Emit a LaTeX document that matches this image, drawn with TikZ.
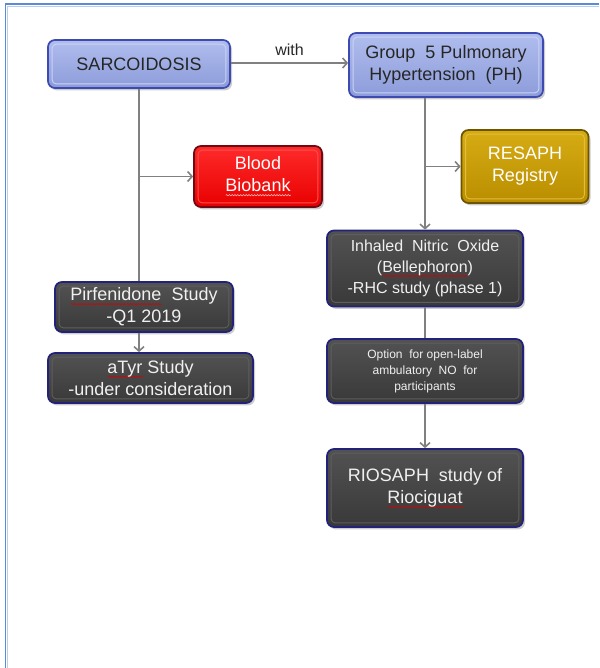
\documentclass[tikz,border=0pt]{standalone}
\usepackage{fontspec}
\setmainfont{Liberation Sans}
\usetikzlibrary{arrows.meta,shadows,decorations.pathmorphing}

% word with a wavy underline (spell-check mark); optional argument: wave colour
\newsavebox\wavebox
\newcommand\redwave[2][red!85!black]{\sbox\wavebox{#2}\leavevmode
  \rlap{\tikz[baseline=0pt, x=1pt, y=1pt, sharp corners, line width=0.55pt]
    \draw[#1, decorate, decoration={snake, amplitude=0.65pt, segment length=2.8pt}]
      (0,-3.3) -- (\the\wd\wavebox,-3.3);}%
  \usebox\wavebox}

\definecolor{frameblue}{HTML}{5B8BD6}
\definecolor{frameblueL}{HTML}{B9CDEE}
\definecolor{blueTop}{HTML}{B0BDEE}
\definecolor{blueBot}{HTML}{8D9CDA}
\definecolor{blueEdge}{HTML}{3D4AB2}
\definecolor{blueBevel}{HTML}{C9D2F5}
\definecolor{darkTop}{HTML}{525252}
\definecolor{darkBot}{HTML}{393939}
\definecolor{darkEdge}{HTML}{22227A}
\definecolor{darkBevel}{HTML}{5E5E5E}
\definecolor{redTop}{HTML}{FF2A2A}
\definecolor{redBot}{HTML}{E80000}
\definecolor{redEdge}{HTML}{6E0A14}
\definecolor{redBevel}{HTML}{FF5050}
\definecolor{goldTop}{HTML}{D6AC14}
\definecolor{goldBot}{HTML}{BA8E00}
\definecolor{goldEdge}{HTML}{6E5400}
\definecolor{goldBevel}{HTML}{E2BE3A}
\definecolor{linkgrey}{HTML}{808080}

\tikzset{
  basebox/.style={rounded corners=7pt, line width=1.7pt, align=center, inner sep=0pt,
    drop shadow={shadow xshift=2pt, shadow yshift=-2.4pt, opacity=0.4}},
  bluebox/.style={basebox, draw=blueEdge, top color=blueTop, bottom color=blueBot, text=black!85},
  darkbox/.style={basebox, draw=darkEdge, top color=darkTop, bottom color=darkBot, text=white!94!black},
  redbox/.style={basebox, draw=redEdge, top color=redTop, bottom color=redBot, text=white},
  goldbox/.style={basebox, draw=goldEdge, top color=goldTop, bottom color=goldBot, text=white},
  bevel/.style={draw=#1, line width=0.9pt, rounded corners=4pt},
  link/.style={draw=linkgrey, line width=1.6pt},
  arrowlink/.style={link, -{Straight Barb[length=4.5pt,width=10pt,line width=1.6pt]}},
  big/.style={font=\fontsize{18}{22}\selectfont},
  mid/.style={font=\fontsize{16}{21}\selectfont},
  small/.style={font=\fontsize{12}{16}\selectfont},
}

\begin{document}
\begin{tikzpicture}[x=1pt, y=-1pt]
\useasboundingbox (0,0) rectangle (599,668);

% page frame
\draw[frameblueL, line width=1pt] (7.6,668) -- (7.6,6.1) -- (599,6.1);
\draw[frameblue, line width=1.3pt] (5.5,668) -- (5.5,4) -- (599,4);

% boxes
\node[bluebox, big, minimum width=182pt, minimum height=48pt] (sarc) at (139,64) {SARCOIDOSIS};
\node[bluebox, big, minimum width=194pt, minimum height=64pt] (ph) at (446,65)
  {Group\ \ 5 Pulmonary\\Hypertension\ \ (PH)};
\node[redbox, big, minimum width=128pt, minimum height=61pt] (blood) at (258,176.5)
  {Blood\\\redwave[white!75!red]{Biobank}};
\node[goldbox, big, minimum width=127pt, minimum height=73pt] (resaph) at (525,166.5)
  {RESAPH\\Registry};
\node[darkbox, mid, minimum width=196pt, minimum height=76pt] (ino) at (425,268.5)
  {Inhaled\ \ Nitric\ \ Oxide\\(\redwave{Bellephoron})\\-RHC study (phase 1)};
\node[darkbox, small, minimum width=196pt, minimum height=64pt] (opt) at (425,371)
  {Option\ \ for open-label\\ambulatory\ \ NO\ \ for\\participants};
\node[darkbox, big, minimum width=196pt, minimum height=78pt] (rio) at (425,488)
  {RIOSAPH\ \ study of\\\redwave{Riociguat}};
\node[darkbox, big, minimum width=178pt, minimum height=50pt] (pirf) at (144,307)
  {\redwave{Pirfenidone}\ \ Study\\-Q1 2019};
\node[darkbox, big, minimum width=205pt, minimum height=50pt] (atyr) at (150.5,378)
  {\redwave{aTyr} Study\\-under consideration};

% inner bevel lines
\foreach \n/\c in {sarc/blueBevel, ph/blueBevel, blood/redBevel, resaph/goldBevel,
                   ino/darkBevel, opt/darkBevel, rio/darkBevel, pirf/darkBevel, atyr/darkBevel}
  \draw[bevel=\c] ([shift={(5pt,-5pt)}]\n.north west) rectangle ([shift={(-5pt,5pt)}]\n.south east);

% left trunk: sarcoidosis studies
\coordinate (ltrunk) at (sarc.south);
\draw[link] (sarc.south) -- (ltrunk |- pirf.north);
\draw[arrowlink] (ltrunk |- blood.west) -- (blood.west);
\draw[arrowlink] (ltrunk |- pirf.south) -- (ltrunk |- atyr.north);

% sarcoidosis with group 5 PH
\draw[arrowlink] (sarc.east |- 0,63) -- node[above=3pt, mid, text=black!85] {with} (ph.west |- 0,63);

% right trunk: PH studies
\coordinate (rtrunk) at (ino.north);
\draw[arrowlink] (rtrunk |- ph.south) -- (ino.north);
\draw[arrowlink] (rtrunk |- resaph.west) -- (resaph.west);
\draw[link] (ino.south) -- (opt.north);
\draw[arrowlink] (opt.south) -- (rio.north);
\end{tikzpicture}
\end{document}
